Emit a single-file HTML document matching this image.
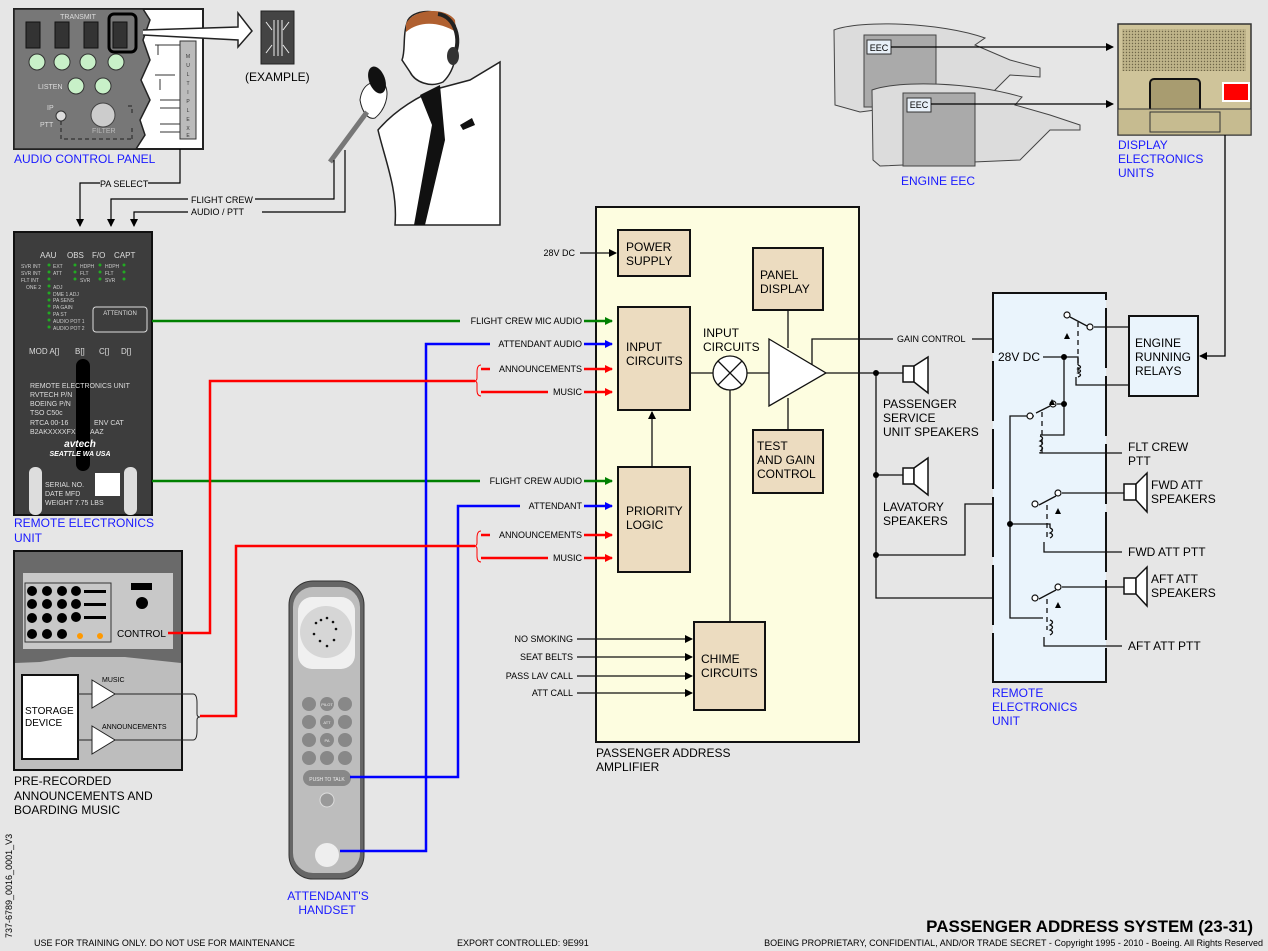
<!DOCTYPE html>
<html><head><meta charset="utf-8"><style>
html,body{margin:0;padding:0;background:#e6e6e6}
svg{display:block;font-family:"Liberation Sans",Arial,sans-serif}
</style></head><body>
<svg width="1268" height="951" viewBox="0 0 1268 951" xmlns="http://www.w3.org/2000/svg">
<defs>
<marker id="ak" markerWidth="8" markerHeight="8" refX="7" refY="4" orient="auto" markerUnits="userSpaceOnUse"><path d="M0,0L8,4L0,8z" fill="#000"/></marker>
<marker id="ag" markerWidth="8" markerHeight="8" refX="7" refY="4" orient="auto" markerUnits="userSpaceOnUse"><path d="M0,0L8,4L0,8z" fill="#008000"/></marker>
<marker id="ab" markerWidth="8" markerHeight="8" refX="7" refY="4" orient="auto" markerUnits="userSpaceOnUse"><path d="M0,0L8,4L0,8z" fill="#0000ff"/></marker>
<marker id="ar" markerWidth="8" markerHeight="8" refX="7" refY="4" orient="auto" markerUnits="userSpaceOnUse"><path d="M0,0L8,4L0,8z" fill="#ff0000"/></marker>
<pattern id="grill" width="3" height="3" patternUnits="userSpaceOnUse"><rect width="3" height="3" fill="#bfb48a"/><circle cx="1.5" cy="1.5" r="0.7" fill="#6e6648"/></pattern>
</defs>
<rect width="1268" height="951" fill="#e6e6e6"/>

<!-- AUDIO CONTROL PANEL -->
<rect x="14" y="9" width="189" height="140" fill="#fff" stroke="#222" stroke-width="2"/>
<path d="M14,9H143L150,20L143,40L150,60L141,80L150,100L140,120L145,135L136,149H14Z" fill="#777" stroke="#222" stroke-width="1.5"/>
<text x="78" y="19" font-size="7" fill="#ddd" text-anchor="middle">TRANSMIT</text>
<g fill="#333" stroke="#111"><rect x="26" y="22" width="14" height="26"/><rect x="55" y="22" width="14" height="26"/><rect x="84" y="22" width="14" height="26"/><rect x="113" y="22" width="14" height="26"/></g>
<rect x="109" y="14" width="27" height="38" rx="5" fill="none" stroke="#000" stroke-width="3"/>
<g fill="#c8f0c8" stroke="#333"><circle cx="37" cy="62" r="8"/><circle cx="62" cy="62" r="8"/><circle cx="88" cy="62" r="8"/><circle cx="116" cy="62" r="8"/><circle cx="76" cy="86" r="8"/><circle cx="103" cy="86" r="8"/></g>
<text x="38" y="89" font-size="7" fill="#ddd">LISTEN</text>
<text x="47" y="110" font-size="7" fill="#ddd">IP</text><text x="40" y="127" font-size="7" fill="#ddd">PTT</text>
<circle cx="61" cy="116" r="5" fill="#ddd" stroke="#333"/>
<path d="M61,121V139H132M132,139V128M128,106H132V115" stroke="#222" fill="none" stroke-dasharray="4,3"/>
<circle cx="103" cy="115" r="12" fill="#ccc" stroke="#444"/><text x="92" y="133" font-size="7" fill="#bbb">FILTER</text>
<rect x="180" y="41" width="16" height="98" fill="#bbb" stroke="#333"/>
<g font-size="5" text-anchor="middle" fill="#333"><text x="188" y="58">M</text><text x="188" y="67">U</text><text x="188" y="76">L</text><text x="188" y="85">T</text><text x="188" y="94">I</text><text x="188" y="103">P</text><text x="188" y="112">L</text><text x="188" y="121">E</text><text x="188" y="130">X</text><text x="188" y="137">E</text></g>
<path d="M160,100H180M160,108H180M160,124H180M160,132H180M160,79V90M155,45H180M158,45V55M155,75H175" stroke="#333" fill="none"/>
<!-- big arrow -->
<path d="M143,30L238,27L238,13L252,31L238,47L238,40L143,35" fill="#fff" stroke="#222" stroke-width="1.5"/>
<rect x="261" y="11" width="33" height="53" fill="#444" stroke="#222"/>
<path d="M274,20V56M278,20V56M282,20V56" stroke="#eee"/>
<path d="M266,22L272,30M289,22L283,30M266,53L272,45M289,53L283,45" stroke="#eee"/>
<text x="245" y="81" font-size="12" fill="#000">(EXAMPLE)</text>
<text x="14" y="163" font-size="12" fill="#1a1aff">AUDIO CONTROL PANEL</text>

<!-- Pilot -->
<path d="M378,130 C395,110 420,95 440,88 L470,80 L500,62 L500,225 L395,225 C398,190 385,160 378,130 Z" fill="#fff" stroke="#222" stroke-width="1.5"/>
<path d="M420,95L440,85L445,140L425,225H414L432,125Z" fill="#111"/>
<path d="M460,125L472,118L475,125L463,130Z" fill="#111"/>
<path d="M408,20 C415,8 445,8 455,25 C460,45 456,70 443,82 C430,88 415,82 410,72 L402,60 C406,50 402,35 408,20Z" fill="#fff" stroke="#222" stroke-width="1.5"/>
<path d="M406,24 C412,9 445,6 455,20 L456,32 C440,22 420,20 406,32Z" fill="#b06030"/>
<path d="M438,14 C455,16 462,40 454,55" fill="none" stroke="#222" stroke-width="4"/>
<ellipse cx="453" cy="56" rx="6" ry="9" fill="#333"/>
<path d="M360,100 C362,85 372,78 385,85 C390,95 385,110 375,118 C368,120 362,112 360,100Z" fill="#fff" stroke="#222"/>
<ellipse cx="377" cy="80" rx="8" ry="14" fill="#111" transform="rotate(-20 377 80)"/>
<path d="M367,112 L330,162" stroke="#777" stroke-width="5"/>

<!-- Connectors to REU -->
<g stroke="#000" fill="none" stroke-width="1.2">
<path d="M180,149V183H148M100,183H80V226" marker-end="url(#ak)"/>
<path d="M334,160V199H255M188,199H111V226" marker-end="url(#ak)"/>
<path d="M345,150V212H262M188,212H134V226" marker-end="url(#ak)"/>
</g>
<text x="100" y="187" font-size="9">PA SELECT</text>
<text x="191" y="203" font-size="9">FLIGHT CREW</text>
<text x="191" y="215" font-size="9">AUDIO / PTT</text>

<!-- REU (left) -->
<rect x="14" y="232" width="138" height="283" fill="#3d3d3d" stroke="#111" stroke-width="2"/>
<g fill="#ddd" font-size="8"><text x="40" y="258">AAU</text><text x="67" y="258">OBS</text><text x="92" y="258">F/O</text><text x="114" y="258">CAPT</text></g>
<g fill="#2a2"><circle cx="49" cy="265" r="1.5"/><circle cx="49" cy="272" r="1.5"/><circle cx="49" cy="279" r="1.5"/><circle cx="49" cy="286" r="1.5"/><circle cx="49" cy="293" r="1.5"/><circle cx="49" cy="300" r="1.5"/><circle cx="49" cy="306" r="1.5"/><circle cx="49" cy="313" r="1.5"/><circle cx="49" cy="320" r="1.5"/><circle cx="49" cy="327" r="1.5"/><circle cx="75" cy="265" r="1.5"/><circle cx="75" cy="272" r="1.5"/><circle cx="75" cy="279" r="1.5"/><circle cx="100" cy="265" r="1.5"/><circle cx="100" cy="272" r="1.5"/><circle cx="100" cy="279" r="1.5"/><circle cx="124" cy="265" r="1.5"/><circle cx="124" cy="272" r="1.5"/><circle cx="124" cy="279" r="1.5"/></g>
<g fill="#ccc" font-size="5">
<text x="21" y="268">SVR INT</text><text x="21" y="275">SVR INT</text><text x="21" y="282">FLT INT</text><text x="26" y="289">ONE 2</text>
<text x="53" y="268">EXT</text><text x="53" y="275">ATT</text><text x="80" y="268">HDPH</text><text x="80" y="275">FLT</text><text x="80" y="282">SVR</text>
<text x="105" y="268">HDPH</text><text x="105" y="275">FLT</text><text x="105" y="282">SVR</text>
<text x="53" y="289">ADJ</text><text x="53" y="296">DME 1 ADJ</text><text x="53" y="302">PA SENS</text><text x="53" y="309">PA GAIN</text><text x="53" y="316">PA ST</text><text x="53" y="323">AUDIO POT 1</text><text x="53" y="330">AUDIO POT 2</text>
</g>
<rect x="93" y="307" width="54" height="25" rx="3" fill="none" stroke="#ddd"/>
<text x="120" y="315" font-size="6" fill="#ddd" text-anchor="middle">ATTENTION</text>
<g fill="#ddd" font-size="8"><text x="29" y="354">MOD A[]</text><text x="75" y="354">B[]</text><text x="99" y="354">C[]</text><text x="121" y="354">D[]</text></g>
<rect x="76" y="359" width="14" height="112" rx="7" fill="#000"/>
<g fill="#ddd" font-size="7"><text x="30" y="388">REMOTE ELECTRONICS UNIT</text><text x="30" y="397">RVTECH P/N</text><text x="30" y="406">BOEING P/N</text><text x="30" y="415">TSO C50c</text><text x="30" y="425">RTCA 00-16</text><text x="94" y="425">ENV CAT</text><text x="30" y="434">B2AKXXXXFX</text><text x="90" y="434">AAZ</text></g>
<text x="80" y="447" font-size="10" fill="#fff" font-weight="bold" font-style="italic" text-anchor="middle">avtech</text>
<text x="80" y="456" font-size="7" fill="#fff" font-weight="bold" font-style="italic" text-anchor="middle">SEATTLE  WA  USA</text>
<rect x="29" y="467" width="13" height="48" rx="6" fill="#ddd"/><rect x="124" y="467" width="13" height="48" rx="6" fill="#ddd"/>
<rect x="95" y="473" width="25" height="23" fill="#fff"/>
<g fill="#ddd" font-size="7"><text x="45" y="487">SERIAL NO.</text><text x="45" y="496">DATE MFD</text><text x="45" y="505">WEIGHT 7.75 LBS</text></g>
<text x="14" y="527" font-size="12" fill="#1a1aff">REMOTE ELECTRONICS</text>
<text x="14" y="542" font-size="12" fill="#1a1aff">UNIT</text>

<!-- Pre-recorded -->
<rect x="14" y="551" width="168" height="219" fill="#bdbdbd" stroke="#111" stroke-width="2"/>
<path d="M15,552H181V663L125,657L70,657L40,662L15,663Z" fill="#6a6a6a"/>
<rect x="23" y="573" width="150" height="76" fill="#c8c8c8"/>
<rect x="25" y="583" width="86" height="59" fill="none" stroke="#333"/>
<g fill="#000"><circle cx="32" cy="591" r="5"/><circle cx="47" cy="591" r="5"/><circle cx="62" cy="591" r="5"/><circle cx="76" cy="591" r="5"/>
<circle cx="32" cy="604" r="5"/><circle cx="47" cy="604" r="5"/><circle cx="62" cy="604" r="5"/><circle cx="76" cy="604" r="5"/>
<circle cx="32" cy="618" r="5"/><circle cx="47" cy="618" r="5"/><circle cx="62" cy="618" r="5"/><circle cx="76" cy="617" r="5"/>
<circle cx="32" cy="634" r="5"/><circle cx="47" cy="634" r="5"/><circle cx="62" cy="634" r="5"/>
<rect x="84" y="590" width="22" height="3"/><rect x="84" y="603" width="22" height="3"/><rect x="84" y="616" width="22" height="3"/>
<rect x="131" y="583" width="21" height="7"/><circle cx="142" cy="603" r="6"/></g>
<circle cx="80" cy="636" r="3" fill="#f90"/><circle cx="100" cy="636" r="3" fill="#f90"/>
<text x="117" y="637" font-size="10">CONTROL</text>
<rect x="22" y="675" width="56" height="84" fill="#fff" stroke="#111" stroke-width="2"/>
<text x="25" y="714" font-size="10">STORAGE</text><text x="25" y="726" font-size="10">DEVICE</text>
<g stroke="#222" fill="#fff"><path d="M78,694H92M92,680L115,694L92,708Z"/><path d="M78,740H92M92,726L115,740L92,754Z"/></g>
<path d="M115,694H193M115,740H193" stroke="#222"/>
<path d="M193,694Q197,694 197,703V714Q197,717 200,717Q197,717 197,720V731Q197,740 193,740" fill="none" stroke="#222"/>
<text x="102" y="682" font-size="7">MUSIC</text><text x="102" y="729" font-size="7">ANNOUNCEMENTS</text>
<g font-size="12"><text x="14" y="785">PRE-RECORDED</text><text x="14" y="800">ANNOUNCEMENTS AND</text><text x="14" y="814">BOARDING MUSIC</text></g>

<!-- Handset -->
<rect x="289" y="581" width="75" height="298" rx="24" fill="#666" stroke="#333"/>
<rect x="293" y="587" width="67" height="286" rx="20" fill="#bdbdbd"/>
<rect x="298" y="597" width="57" height="72" rx="14" fill="#f0f0f0"/>
<circle cx="326" cy="632" r="26" fill="#d6d6d6"/>
<g fill="#111"><circle cx="327" cy="618" r="1.3"/><circle cx="333" cy="622" r="1.3"/><circle cx="336" cy="629" r="1.3"/><circle cx="334" cy="640" r="1.3"/><circle cx="327" cy="646" r="1.3"/><circle cx="320" cy="641" r="1.3"/><circle cx="314" cy="634" r="1.3"/><circle cx="316" cy="623" r="1.3"/><circle cx="321" cy="620" r="1.3"/></g>
<g fill="#888"><circle cx="309" cy="704" r="7"/><circle cx="327" cy="704" r="7"/><circle cx="345" cy="704" r="7"/><circle cx="309" cy="722" r="7"/><circle cx="327" cy="722" r="7"/><circle cx="345" cy="722" r="7"/><circle cx="309" cy="740" r="7"/><circle cx="327" cy="740" r="7"/><circle cx="345" cy="740" r="7"/><circle cx="309" cy="758" r="7"/><circle cx="327" cy="758" r="7"/><circle cx="345" cy="758" r="7"/></g>
<g fill="#eee" font-size="4" text-anchor="middle"><text x="327" y="706">PILOT</text><text x="327" y="724">ATT</text><text x="327" y="742">PA</text></g>
<rect x="303" y="770" width="48" height="16" rx="8" fill="#888"/>
<text x="327" y="781" font-size="5" fill="#eee" text-anchor="middle">PUSH TO TALK</text>
<circle cx="327" cy="800" r="7" fill="#999" stroke="#ddd"/>
<circle cx="327" cy="855" r="12" fill="#eee"/>
<text x="328" y="900" font-size="12" fill="#1a1aff" text-anchor="middle">ATTENDANT'S</text>
<text x="327" y="914" font-size="12" fill="#1a1aff" text-anchor="middle">HANDSET</text>

<!-- Engines -->
<path d="M834,30C860,20 940,22 985,38L975,45L1010,60L1040,68V77L1010,75L990,95L860,112L835,105Z" fill="#dcdcdc" stroke="#444"/>
<rect x="864" y="35" width="72" height="72" fill="#aaa" stroke="#444"/>
<rect x="867" y="40" width="24" height="14" fill="#e8f0f8" stroke="#333"/><text x="879" y="51" font-size="9" text-anchor="middle">EEC</text>
<path d="M872,90C900,80 970,82 1022,97L1015,105L1050,115L1080,125V130L1050,130L1020,160L880,166L873,160Z" fill="#dcdcdc" stroke="#444"/>
<rect x="903" y="93" width="72" height="73" fill="#aaa" stroke="#444"/>
<rect x="907" y="98" width="24" height="14" fill="#e8f0f8" stroke="#333"/><text x="919" y="108" font-size="9" text-anchor="middle">EEC</text>
<path d="M891,47H1113" stroke="#000" stroke-width="1.3" marker-end="url(#ak)"/>
<path d="M931,104H1113" stroke="#000" stroke-width="1.3" marker-end="url(#ak)"/>
<text x="901" y="185" font-size="12" fill="#1a1aff">ENGINE EEC</text>
<!-- DEU -->
<rect x="1118" y="24" width="133" height="111" fill="#cfc49a" stroke="#333" stroke-width="1.5"/>
<rect x="1122" y="29" width="124" height="42" fill="url(#grill)"/>
<rect x="1150" y="79" width="50" height="33" rx="4" fill="#a89c70" stroke="#111" stroke-width="2"/>
<rect x="1222" y="82" width="28" height="20" fill="#fff"/><rect x="1224" y="84" width="24" height="16" fill="#f00"/>
<rect x="1118" y="109" width="133" height="26" fill="#c6bb90" stroke="#333"/>
<rect x="1150" y="112" width="70" height="20" fill="none" stroke="#333"/>
<text x="1118" y="149" font-size="12" fill="#1a1aff">DISPLAY</text><text x="1118" y="163" font-size="12" fill="#1a1aff">ELECTRONICS</text><text x="1118" y="177" font-size="12" fill="#1a1aff">UNITS</text>
<path d="M1225,135V356H1200" stroke="#000" stroke-width="1.3" fill="none" marker-end="url(#ak)"/>

<!-- Amplifier -->
<rect x="596" y="207" width="263" height="535" fill="#fdfde0" stroke="#111" stroke-width="2"/>
<g fill="#ecdcc0" stroke="#111" stroke-width="2">
<rect x="618" y="230" width="72" height="46"/><rect x="618" y="307" width="72" height="103"/><rect x="618" y="467" width="72" height="105"/>
<rect x="753" y="248" width="70" height="62"/><rect x="753" y="430" width="70" height="63"/><rect x="694" y="622" width="71" height="88"/></g>
<g font-size="12"><text x="626" y="251">POWER</text><text x="626" y="265">SUPPLY</text>
<text x="626" y="351">INPUT</text><text x="626" y="365">CIRCUITS</text>
<text x="626" y="515">PRIORITY</text><text x="626" y="529">LOGIC</text>
<text x="760" y="279">PANEL</text><text x="760" y="293">DISPLAY</text>
<text x="757" y="450">TEST</text><text x="757" y="464">AND GAIN</text><text x="757" y="478">CONTROL</text>
<text x="701" y="663">CHIME</text><text x="701" y="677">CIRCUITS</text>
<text x="703" y="337">INPUT</text><text x="703" y="351">CIRCUITS</text></g>
<g stroke="#111" stroke-width="1.3" fill="none">
<path d="M690,373H713M747,373H769M788,310V348M788,398V430M730,390V622"/>
<circle cx="730" cy="373" r="17" fill="#fff"/><path d="M718,361L742,385M742,361L718,385"/>
<path d="M769,339L826,373L769,406Z" fill="#fff"/>
<path d="M652,467V412" marker-end="url(#ak)"/>
<path d="M580,253H616" marker-end="url(#ak)"/>
<path d="M577,693H692" marker-end="url(#ak)"/>
<path d="M826,373H903M812,365V339H893M972,339H1064"/>
<path d="M876,373V598H1035M876,555H965V504H1035"/>
<path d="M876,475H903"/>
</g>
<path d="M577,639H692" stroke="#111" stroke-width="1.3" marker-end="url(#ak)"/>
<path d="M577,657H692" stroke="#111" stroke-width="1.3" marker-end="url(#ak)"/>
<path d="M577,676H692" stroke="#111" stroke-width="1.3" marker-end="url(#ak)"/>
<g fill="#000"><circle cx="876" cy="373" r="3"/><circle cx="876" cy="475" r="3"/><circle cx="876" cy="555" r="3"/></g>
<g font-size="9" text-anchor="end"><text x="575" y="256">28V DC</text><text x="573" y="642">NO SMOKING</text><text x="573" y="660">SEAT BELTS</text><text x="573" y="679">PASS LAV CALL</text><text x="573" y="696">ATT CALL</text></g>
<text x="897" y="342" font-size="9">GAIN CONTROL</text>
<text x="596" y="757" font-size="12">PASSENGER ADDRESS</text><text x="596" y="771" font-size="12">AMPLIFIER</text>

<!-- colored signal lines -->
<g fill="none" stroke-width="2.5">
<path d="M152,321H460M584,321H612" stroke="#008000" marker-end="url(#ag)"/>
<path d="M152,481H480M584,481H612" stroke="#008000" marker-end="url(#ag)"/>
<path d="M340,851H426V344H490M584,344H612" stroke="#0000ff" marker-end="url(#ab)"/>
<path d="M350,777H458V506H520M584,506H612" stroke="#0000ff" marker-end="url(#ab)"/>
<path d="M168,633H210V381H475" stroke="#ff0000"/>
<path d="M200,716H236V546H475" stroke="#ff0000"/>
<path d="M481,369H490M584,369H612" stroke="#ff0000" marker-end="url(#ar)"/>
<path d="M481,392H548M584,392H612" stroke="#ff0000" marker-end="url(#ar)"/>
<path d="M481,535H490M584,535H612" stroke="#ff0000" marker-end="url(#ar)"/>
<path d="M481,558H548M584,558H612" stroke="#ff0000" marker-end="url(#ar)"/>
</g>
<g fill="none" stroke="#ff0000" stroke-width="1"><path d="M481,365Q477,365 477,372V378Q477,381 474,381Q477,381 477,384V390Q477,396 481,396"/><path d="M481,531Q477,531 477,538V543Q477,546 474,546Q477,546 477,549V556Q477,562 481,562"/></g>
<g font-size="9" text-anchor="end"><text x="582" y="324">FLIGHT CREW MIC AUDIO</text><text x="582" y="347">ATTENDANT AUDIO</text><text x="582" y="372">ANNOUNCEMENTS</text><text x="582" y="395">MUSIC</text>
<text x="582" y="484">FLIGHT CREW AUDIO</text><text x="582" y="509">ATTENDANT</text><text x="582" y="538">ANNOUNCEMENTS</text><text x="582" y="561">MUSIC</text></g>

<!-- Speakers -->
<g fill="#fff" stroke="#111" stroke-width="1.5">
<rect x="903" y="366" width="11" height="16"/><path d="M914,366L928,357V393L914,382Z"/>
<rect x="903" y="468" width="11" height="16"/><path d="M914,468L928,458V495L914,484Z"/>
<rect x="1124" y="484" width="12" height="16"/><path d="M1136,484L1147,473V512L1136,500Z"/>
<rect x="1124" y="578" width="12" height="16"/><path d="M1136,578L1147,567V606L1136,594Z"/>
</g>
<g font-size="12"><text x="883" y="408">PASSENGER</text><text x="883" y="422">SERVICE</text><text x="883" y="436">UNIT SPEAKERS</text>
<text x="883" y="511">LAVATORY</text><text x="883" y="525">SPEAKERS</text>
<text x="1151" y="489">FWD ATT</text><text x="1151" y="503">SPEAKERS</text>
<text x="1151" y="583">AFT ATT</text><text x="1151" y="597">SPEAKERS</text>
<text x="1128" y="451">FLT CREW</text><text x="1128" y="465">PTT</text>
<text x="1128" y="556">FWD ATT PTT</text><text x="1128" y="650">AFT ATT PTT</text></g>

<!-- Right REU -->
<rect x="993" y="293" width="113" height="389" fill="#eaf4fc"/>
<path d="M993,293V682H1106V293Z" fill="none" stroke="#111" stroke-width="2" stroke-dasharray="60,8"/>
<path d="M993,293H1106M993,682H1106" stroke="#111" stroke-width="2"/>
<rect x="1129" y="316" width="69" height="80" fill="#eaf4fc" stroke="#111" stroke-width="2"/>
<g font-size="12"><text x="1135" y="347">ENGINE</text><text x="1135" y="361">RUNNING</text><text x="1135" y="375">RELAYS</text></g>
<text x="998" y="361" font-size="12">28V DC</text>
<g stroke="#111" stroke-width="1.3" fill="none">
<path d="M1070,317L1087,326M1094,327H1129M1043,357H1064V404H1057M1064,357H1078V365M1076,377V385H1129"/>
<path d="M1034,416H1010V618H1043M1064,404V435H1040M1040,452V453H1122"/>
<path d="M1039,505L1056,496M1062,493H1124M1010,524H1050V528M1044,542V552H1122"/>
<path d="M1039,599L1056,590M1062,587H1124M1044,637V646H1122"/>
<path d="M1036,413L1050,406"/>
<path d="M1078,322V372M1042,412V455M1047,505V540M1047,599V630" stroke-dasharray="5,4"/>
<path d="M1078,365q5,2 0,4q5,2 0,4q5,2 0,4M1040,436q5,2 0,5q5,2 0,5q5,2 0,5M1050,528q5,2 0,5q5,2 0,5M1050,620q5,2 0,5q5,2 0,5q5,2 0,5"/>
</g>
<g fill="#fff" stroke="#111" stroke-width="1.2"><circle cx="1067" cy="315" r="3"/><circle cx="1090" cy="327" r="3"/><circle cx="1030" cy="416" r="3"/><circle cx="1053" cy="404" r="3"/><circle cx="1035" cy="504" r="3"/><circle cx="1058" cy="493" r="3"/><circle cx="1035" cy="598" r="3"/><circle cx="1058" cy="587" r="3"/></g>
<g fill="#000"><circle cx="1064" cy="357" r="3"/><circle cx="1064" cy="404" r="3"/><circle cx="1010" cy="524" r="3"/>
<path d="M1067,333l3,6h-6z"/><path d="M1052,399l3,6h-6z"/><path d="M1058,508l3,6h-6z"/><path d="M1058,602l3,6h-6z"/></g>
<g font-size="12" fill="#1a1aff"><text x="992" y="697">REMOTE</text><text x="992" y="711">ELECTRONICS</text><text x="992" y="725">UNIT</text></g>

<!-- footer -->
<text x="12" y="938" font-size="9" transform="rotate(-90 12 938)">737-6789_0016_0001_V3</text>
<text x="34" y="946" font-size="9">USE FOR TRAINING ONLY. DO NOT USE FOR MAINTENANCE</text>
<text x="457" y="946" font-size="9">EXPORT CONTROLLED: 9E991</text>
<text x="1263" y="946" font-size="9" text-anchor="end">BOEING PROPRIETARY, CONFIDENTIAL, AND/OR TRADE SECRET - Copyright 1995 - 2010 - Boeing. All Rights Reserved</text>
<text x="1253" y="932" font-size="17" font-weight="bold" text-anchor="end">PASSENGER ADDRESS SYSTEM (23-31)</text>
</svg>
</body></html>
